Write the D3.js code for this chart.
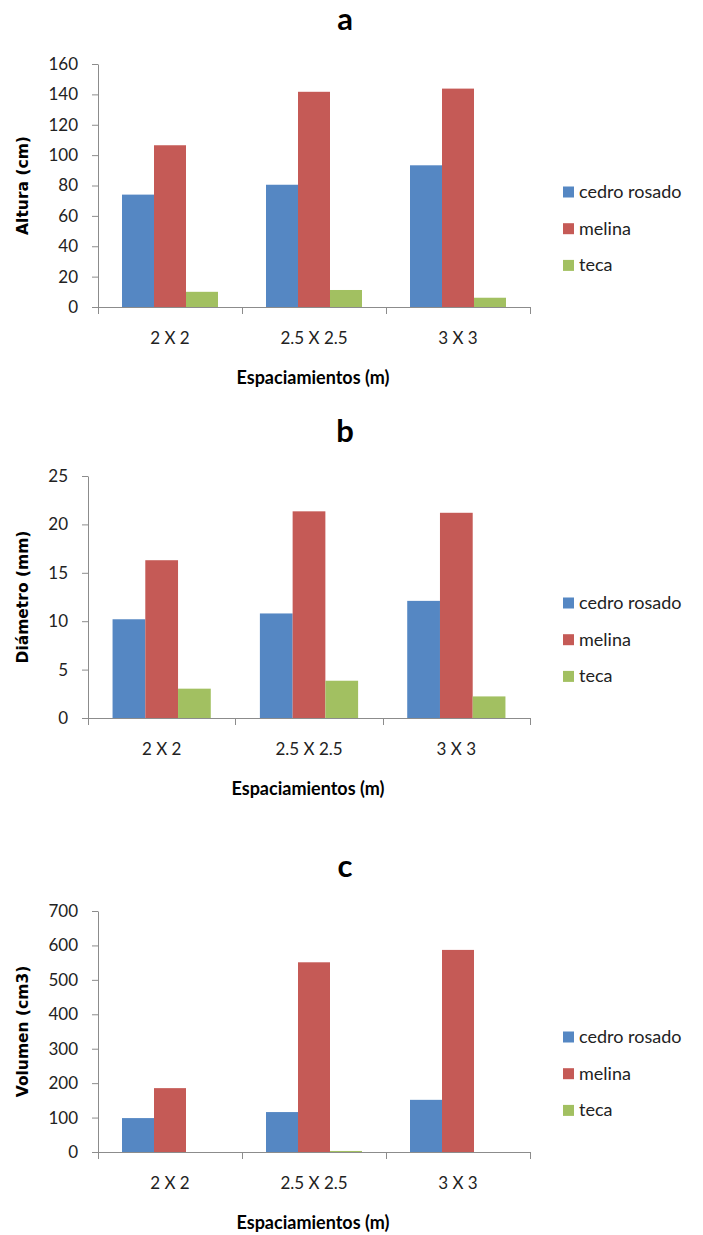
<!DOCTYPE html>
<html>
<head>
<meta charset="utf-8">
<script src="https://cdn.jsdelivr.net/npm/d3@7"></script>
<style>
  html, body { margin: 0; padding: 0; background: #fff; }
  svg { display: block; }
</style>
</head>
<body>
<svg id="chart" width="703" height="1235"></svg>
<script>
// ---------- DATA ----------
const categories = ["2 X 2", "2.5 X 2.5", "3 X 3"];
const seriesNames = ["cedro rosado", "melina", "teca"];

// a) Altura (cm)
const alturaCedro  = [74, 80.5, 93.3];
const alturaMelina = [106.5, 141.7, 143.8];
const alturaTeca   = [10, 11.2, 6.1];
const alturaTicks  = [0, 20, 40, 60, 80, 100, 120, 140, 160];

// b) Diámetro (mm)
const diametroCedro  = [10.2, 10.8, 12.1];
const diametroMelina = [16.3, 21.35, 21.2];
const diametroTeca   = [3.03, 3.85, 2.23];
const diametroTicks  = [0, 5, 10, 15, 20, 25];

// c) Volumen (cm3)
const volumenCedro  = [98.5, 116, 151.5];
const volumenMelina = [185.5, 551, 587];
const volumenTeca   = [0, 3, 0];
const volumenTicks  = [0, 100, 200, 300, 400, 500, 600, 700];

const panelTitles = ["a", "b", "c"];
const yLabels = ["Altura (cm)", "Diámetro (mm)", "Volumen (cm3)"];
const xLabel = "Espaciamientos (m)";

// ---------- STYLE / LAYOUT ----------
const colors = ["#5587C3", "#C55A56", "#A2C061"];
const axisColor = "#8C8C8C";
const layouts = [
  { top: 64,  bottom: 307,  left: 98, right: 530 },
  { top: 476, bottom: 718,  left: 88, right: 530 },
  { top: 911, bottom: 1152, left: 98, right: 530 }
];

const panels = [
  { series: [alturaCedro, alturaMelina, alturaTeca], ticks: alturaTicks },
  { series: [diametroCedro, diametroMelina, diametroTeca], ticks: diametroTicks },
  { series: [volumenCedro, volumenMelina, volumenTeca], ticks: volumenTicks }
];

const svg = d3.select("#chart");
const tickFont = "Lato, 'Open Sans', sans-serif";

panels.forEach((p, pi) => {
  const L = layouts[pi];
  const g = svg.append("g");

  const x = d3.scaleBand().domain(categories).range([L.left, L.right]).paddingInner(0).paddingOuter(0);
  const xs = d3.scaleBand().domain(seriesNames).range([0, x.bandwidth()]).paddingInner(0).paddingOuter(0.75);
  const y = d3.scaleLinear().domain([0, d3.max(p.ticks)]).range([L.bottom, L.top]);

  // title
  g.append("text")
    .attr("x", 345).attr("y", L.top - 34)
    .attr("text-anchor", "middle")
    .attr("font-family", tickFont).attr("font-weight", "bold")
    .attr("font-size", 31).attr("fill", "#000")
    .text(panelTitles[pi]);

  // bars
  seriesNames.forEach((s, si) => {
    g.append("g").selectAll("rect")
      .data(p.series[si].map((v, ci) => ({ v, c: categories[ci] })))
      .join("rect")
      .attr("x", d => x(d.c) + xs(s))
      .attr("width", xs.bandwidth())
      .attr("y", d => y(d.v))
      .attr("height", d => y(0) - y(d.v))
      .attr("fill", colors[si]);
  });

  // y axis
  const yAxis = d3.axisLeft(y).tickValues(p.ticks).tickSize(6).tickSizeOuter(0).tickPadding(14)
    .tickFormat(d3.format("d"));
  const ya = g.append("g").attr("transform", `translate(${L.left},0)`).call(yAxis);
  ya.select(".domain").attr("stroke", axisColor);
  ya.selectAll(".tick line").attr("stroke", axisColor);
  ya.selectAll(".tick text").attr("font-family", tickFont).attr("font-size", 17).attr("fill", "#222");

  // x axis line and boundary ticks
  g.append("line")
    .attr("x1", L.left).attr("x2", L.right)
    .attr("y1", L.bottom + 0.5).attr("y2", L.bottom + 0.5)
    .attr("stroke", axisColor);
  g.append("g").selectAll("line")
    .data(d3.range(categories.length + 1))
    .join("line")
    .attr("x1", i => Math.round(L.left + i * x.step()) + 0.5)
    .attr("x2", i => Math.round(L.left + i * x.step()) + 0.5)
    .attr("y1", L.bottom).attr("y2", L.bottom + 7)
    .attr("stroke", axisColor);

  // x category labels
  const xAxis = d3.axisBottom(x).tickSize(0).tickPadding(25);
  const xa = g.append("g").attr("transform", `translate(0,${L.bottom})`).call(xAxis);
  xa.select(".domain").remove();
  xa.selectAll(".tick text").attr("font-family", tickFont).attr("font-size", 17).attr("fill", "#222");

  // x axis title
  g.append("text")
    .attr("x", (L.left + L.right) / 2 - 1).attr("y", L.bottom + 77)
    .attr("text-anchor", "middle")
    .attr("font-family", tickFont).attr("font-weight", "bold")
    .attr("font-size", 18).attr("fill", "#000")
    .text(xLabel);

  // y axis title
  g.append("text")
    .attr("transform", `translate(28,${(L.top + L.bottom) / 2}) rotate(-90)`)
    .attr("text-anchor", "middle")
    .attr("font-family", "'DejaVu Sans', sans-serif").attr("font-weight", "bold")
    .attr("font-size", 15.5).attr("fill", "#000")
    .text(yLabels[pi]);

  // legend
  const legend = g.append("g");
  seriesNames.forEach((s, si) => {
    const cy = L.bottom - 115 + si * 36.7;
    legend.append("rect")
      .attr("x", 563).attr("y", cy - 5.5)
      .attr("width", 11).attr("height", 11)
      .attr("fill", colors[si]);
    legend.append("text")
      .attr("x", 579).attr("y", cy + 6)
      .attr("font-family", tickFont).attr("font-size", 18).attr("fill", "#222")
      .text(s);
  });
});
</script>
</body>
</html>
